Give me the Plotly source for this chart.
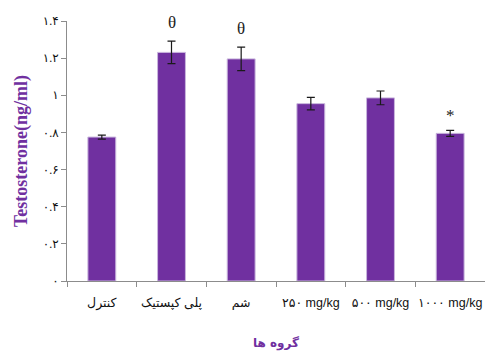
import plotly.graph_objects as go

# Group labels (Persian) and measured serum testosterone
groups = ["کنترل", "پلی کپستیک", "شم", "۲۵۰ mg/kg", "۵۰۰ mg/kg", "۱۰۰۰ mg/kg"]
testosterone = [0.775, 1.231, 1.196, 0.955, 0.986, 0.795]
sem = [0.011, 0.061, 0.063, 0.034, 0.037, 0.016]
marks = ["", "θ", "θ", "", "", "*"]

# Y ticks drawn with Persian digits
y_ticks = [0, 0.2, 0.4, 0.6, 0.8, 1.0, 1.2, 1.4]
y_tick_text = ["۰", "۰.۲", "۰.۴", "۰.۶", "۰.۸", "۱", "۱.۲", "۱.۴"]

purple = "#7030A0"

fig = go.Figure()
fig.add_trace(go.Bar(
    x=groups,
    y=testosterone,
    marker=dict(color=purple, line=dict(color="#C9B6DD", width=1)),
    error_y=dict(type="data", array=sem, visible=True,
                 color="#1a1a1a", thickness=1.2, width=4),
    showlegend=False,
))

for g, v, e, m in zip(groups, testosterone, sem, marks):
    if m:
        fig.add_annotation(
            x=g, y=v + e, text=m, showarrow=False,
            yanchor="bottom", yshift=7 if m == "θ" else 3,
            font=dict(family="Liberation Serif", size=17, color="#222"),
        )

fig.update_layout(
    width=485, height=360,
    margin=dict(l=67, r=0, t=21, b=79),
    paper_bgcolor="white", plot_bgcolor="white",
    bargap=0.6,
    xaxis=dict(
        showline=True, linecolor="#8c8c8c", linewidth=1,
        ticks="outside", tickson="boundaries", ticklen=5,
        tickcolor="#8c8c8c", tickangle=0, ticklabelstandoff=10,
        tickfont=dict(family="Liberation Sans, DejaVu Sans", size=12.5, color="#111"),
        title=dict(text="<b>گروه ها</b>", standoff=28,
                   font=dict(family="DejaVu Sans", size=12, color=purple)),
    ),
    yaxis=dict(
        range=[0, 1.4], showgrid=False, zeroline=False,
        showline=True, linecolor="#8c8c8c", linewidth=1,
        ticks="outside", ticklen=5, tickcolor="#8c8c8c",
        tickvals=y_ticks, ticktext=y_tick_text,
        tickfont=dict(family="Liberation Serif, DejaVu Sans", size=12, color="#111"),
        title=dict(text="<b>Testosterone(ng/ml)</b>", standoff=10,
                   font=dict(family="Liberation Serif", size=18, color=purple)),
    ),
)

fig.write_html("out.html")
